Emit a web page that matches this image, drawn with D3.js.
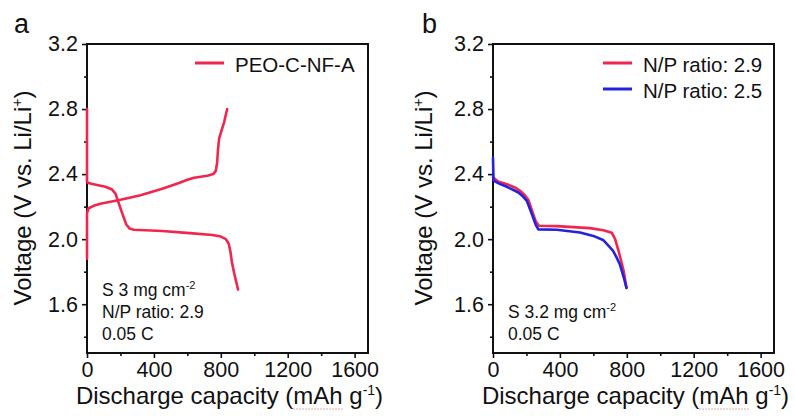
<!DOCTYPE html>
<html>
<head>
<meta charset="utf-8">
<script src="https://cdn.jsdelivr.net/npm/d3@7"></script>
<style>
  body { margin: 0; background: #fff; }
  svg text { font-family: "Liberation Sans", Arial, sans-serif; fill: #111; }
</style>
</head>
<body>
<svg id="fig" width="795" height="416"></svg>
<script>
// panel a : PEO-C-NF-A, discharge + charge
const capA_dis = [0, 0, 20, 60, 110, 150, 170, 190, 210, 235, 255, 280, 450, 615, 750, 800, 830, 848, 858, 866, 880, 903]
const vA_dis = [2.80, 2.35, 2.342, 2.333, 2.322, 2.305, 2.28, 2.22, 2.16, 2.09, 2.065, 2.058, 2.05, 2.037, 2.026, 2.016, 2.0, 1.97, 1.92, 1.86, 1.79, 1.69]
const capA_chg = [0, 0, 10, 40, 80, 200, 320, 450, 550, 600, 640, 720, 755, 770, 778, 783, 790, 805, 820, 838]
const vA_chg = [1.88, 2.16, 2.19, 2.205, 2.218, 2.242, 2.27, 2.31, 2.345, 2.365, 2.378, 2.39, 2.40, 2.42, 2.47, 2.55, 2.62, 2.67, 2.72, 2.80]

// panel b : two N/P ratios, discharge only
const capB_29 = [0, 30, 83, 130, 163, 190, 212, 235, 255, 275, 381, 579, 660, 710, 730, 750, 765, 782, 798]
const vB_29 = [2.38, 2.355, 2.338, 2.318, 2.297, 2.27, 2.24, 2.17, 2.11, 2.082, 2.08, 2.068, 2.055, 2.04, 2.0, 1.93, 1.87, 1.80, 1.70]
const capB_25 = [0, 3, 40, 83, 152, 180, 202, 230, 255, 271, 381, 520, 600, 658, 690, 718, 740, 758, 782, 798]
const vB_25 = [2.50, 2.36, 2.34, 2.322, 2.287, 2.262, 2.236, 2.16, 2.09, 2.06, 2.058, 2.041, 2.02, 1.995, 1.96, 1.928, 1.885, 1.846, 1.764, 1.70]

const xMajor = [0, 400, 800, 1200, 1600]
const xMinor = [200, 600, 1000, 1400]
const yMajor = [1.6, 2.0, 2.4, 2.8, 3.2]
const yMinor = [1.4, 1.8, 2.2, 2.6, 3.0]

const RED = "#f2254f", BLUE = "#2222e0"

const svg = d3.select("#fig")
const plotTop = 44, plotBottom = 353

function zip(xs, ys){ return xs.map((x,i) => [x, ys[i]]) }

function panel(opt){
  const x = d3.scaleLinear().domain([0, 1680]).range([opt.left, opt.right])
  const y = d3.scaleLinear().domain([1.3, 3.2]).range([plotBottom, plotTop])
  const g = svg.append("g")

  // minor ticks first, no labels
  g.append("g").attr("transform", `translate(0,${plotBottom})`)
    .call(d3.axisBottom(x).tickValues(xMinor).tickSize(3).tickFormat(""))
  g.append("g").attr("transform", `translate(${opt.left},0)`)
    .call(d3.axisLeft(y).tickValues(yMinor).tickSize(3).tickFormat(""))

  const xa = g.append("g").attr("transform", `translate(0,${plotBottom})`)
    .call(d3.axisBottom(x).tickValues(xMajor).tickSize(5).tickPadding(4).tickFormat(d3.format("d")))
  const ya = g.append("g").attr("transform", `translate(${opt.left},0)`)
    .call(d3.axisLeft(y).tickValues(yMajor).tickSize(5).tickPadding(4).tickFormat(d3.format(".1f")))
  g.selectAll(".domain").remove()
  g.selectAll(".tick line").attr("stroke", "#111").attr("stroke-width", 1.6)
  xa.selectAll("text").attr("font-size", 21.5).attr("fill", "#111").attr("dy", "0.71em")
  ya.selectAll("text").attr("font-size", 21.5).attr("fill", "#111")

  // frame
  g.append("rect").attr("x", opt.left).attr("y", plotTop)
    .attr("width", opt.right - opt.left).attr("height", plotBottom - plotTop)
    .attr("fill", "none").attr("stroke", "#111").attr("stroke-width", 2)

  const line = d3.line().x(d => x(d[0])).y(d => y(d[1]))
  opt.series.forEach(s => {
    g.append("path").datum(zip(s.cap, s.v))
      .attr("fill", "none").attr("stroke", s.color).attr("stroke-width", 2.6)
      .attr("stroke-linejoin", "round").attr("stroke-linecap", "round")
      .attr("d", line)
  })

  // legend
  opt.legend.forEach((l, i) => {
    const ly = 63 + i * 26
    g.append("line").attr("x1", opt.legX).attr("x2", opt.legX + 29)
      .attr("y1", ly).attr("y2", ly).attr("stroke", l.color).attr("stroke-width", 3)
    g.append("text").attr("x", opt.legX + 40).attr("y", ly + 8.5)
      .attr("font-size", 20.5).text(l.name)
  })

  // notes in lower left
  opt.notes.forEach((n, i) => {
    const t = g.append("text").attr("x", opt.left + 15).attr("y", opt.noteY + i * 22).attr("font-size", 17.5)
    t.append("tspan").text(n[0])
    if (n[1]) t.append("tspan").attr("font-size", 11).attr("dy", -7).text(n[1])
  })

  // axis titles
  const xt = g.append("text").attr("x", (opt.left + opt.right) / 2 + 2).attr("y", 404)
    .attr("text-anchor", "middle").attr("font-size", 24)
  xt.append("tspan").text("Discharge capacity (mAh g")
  xt.append("tspan").attr("font-size", 14).attr("dy", -9).text("-1")
  xt.append("tspan").attr("dy", 9).text(")")
  // faint spell-check squiggle under mAh
  const node = xt.node()
  const full = "Discharge capacity (mAh g"
  const s0 = node.getStartPositionOfChar(full.indexOf("mAh")).x
  const s1 = node.getEndPositionOfChar(full.indexOf("mAh") + 2).x
  g.append("line").attr("x1", s0).attr("x2", s1).attr("y1", 409).attr("y2", 409)
    .attr("stroke", "#e05050").attr("stroke-width", 1).attr("stroke-dasharray", "1.5,1.5").attr("opacity", 0.7)

  const yt = g.append("text").attr("transform", `translate(${opt.yTitleX},198) rotate(-90)`)
    .attr("text-anchor", "middle").attr("font-size", 24)
  yt.append("tspan").text("Voltage (V vs. Li/Li")
  yt.append("tspan").attr("font-size", 14).attr("dy", -9).text("+")
  yt.append("tspan").attr("dy", 9).text(")")

  svg.append("text").attr("x", opt.labelX).attr("y", 33).attr("font-size", 27).text(opt.label)
}

panel({
  left: 87, right: 368, label: "a", labelX: 14, yTitleX: 31, legX: 195, noteY: 296,
  series: [
    { cap: capA_dis, v: vA_dis, color: RED },
    { cap: capA_chg, v: vA_chg, color: RED }
  ],
  legend: [{ name: "PEO-C-NF-A", color: RED }],
  notes: [["S 3 mg cm", "-2"], ["N/P ratio: 2.9"], ["0.05 C"]]
})

panel({
  left: 493, right: 774, label: "b", labelX: 422, yTitleX: 432, legX: 603, noteY: 318,
  series: [
    { cap: capB_29, v: vB_29, color: RED },
    { cap: capB_25, v: vB_25, color: BLUE }
  ],
  legend: [{ name: "N/P ratio: 2.9", color: RED }, { name: "N/P ratio: 2.5", color: BLUE }],
  notes: [["S 3.2 mg cm", "-2"], ["0.05 C"]]
})
</script>
</body>
</html>
